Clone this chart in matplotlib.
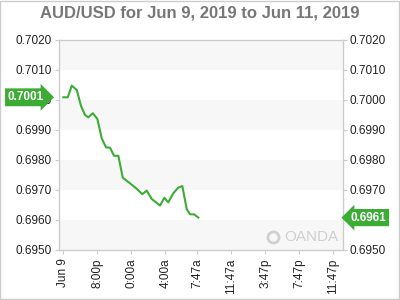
import matplotlib
matplotlib.use("Agg")
import matplotlib.pyplot as plt
import matplotlib.transforms as mtransforms

# hours since Jun 9 16:00
hours = [0, 0.52, 0.99, 1.58, 2.08, 2.55, 2.94, 3.46, 4.0, 4.52, 5.02, 5.49, 5.96, 6.47,
         6.99, 7.85, 8.55, 9.29, 9.81, 10.4, 11.38, 11.88, 12.35, 12.94, 13.53, 14.0,
         14.52, 14.91, 15.38, 15.88]
prices = [0.70009, 0.70009, 0.70048, 0.70033, 0.69980, 0.69950, 0.69942, 0.69956, 0.69937,
          0.69872, 0.69842, 0.69841, 0.69814, 0.69814, 0.69741, 0.69722, 0.69706, 0.69686,
          0.69698, 0.69670, 0.69648, 0.69674, 0.69659, 0.69689, 0.69708, 0.69713, 0.69636,
          0.69619, 0.69619, 0.69608]
xtick_pos = [0, 4, 8, 12, 15.78, 19.78, 23.78, 27.78, 31.78]
xtick_labels = ["Jun 9", "8:00p", "0:00a", "4:00a", "7:47a", "11:47a", "3:47p", "7:47p", "11:47p"]
yticks = [0.6950, 0.6960, 0.6970, 0.6980, 0.6990, 0.7000, 0.7010, 0.7020]
open_label = "0.7001"
last_label = "0.6961"

plt.rcParams['font.family'] = ['Liberation Sans', 'DejaVu Sans']
green = '#3cac34'
spine_c = '#cccccc'

fig = plt.figure(figsize=(4, 3), dpi=100)
ax = fig.add_axes([0.1467, 0.1667, 0.71, 0.70])
ax.set_xlim(-0.55, 32.87)
ax.set_ylim(0.6950, 0.7020)

# alternating bands
for i in range(len(yticks) - 1):
    if i % 2 == 0:
        ax.axhspan(yticks[i], yticks[i + 1], color='#f7f7f7', lw=0, zorder=0)

ax.plot(hours, prices, color=green, lw=1.5, zorder=3)

for s in ax.spines.values():
    s.set_color(spine_c)
    s.set_linewidth(1)

ax.set_yticks(yticks)
ax.set_yticklabels([f"{v:.4f}" for v in yticks])
ax.set_xticks(xtick_pos)
ax.set_xticklabels(xtick_labels, rotation=90)
ax.tick_params(axis='both', colors=spine_c, labelcolor='#222222', labelsize=8.5, length=3)
ax.tick_params(axis='y', pad=2)
ax.tick_params(axis='x', pad=3)

ax2 = ax.twinx()
ax2.set_ylim(ax.get_ylim())
ax2.set_yticks(yticks)
ax2.set_yticklabels([f"{v:.4f}" for v in yticks])
ax2.tick_params(axis='y', colors=spine_c, labelcolor='#222222', labelsize=8.5, length=3, pad=2)
for s in ax2.spines.values():
    s.set_visible(False)

# price tags
tl = mtransforms.blended_transform_factory(fig.transFigure, ax.transData)
ax2.text(0.02, prices[0], open_label, transform=tl, ha='left', va='center',
         color='white', fontsize=8.5, fontweight='bold', zorder=10, clip_on=False,
         bbox=dict(boxstyle='rarrow,pad=0.25', fc=green, ec='none'))
ax2.text(0.877, prices[-1], last_label, transform=tl, ha='left', va='center',
         color='white', fontsize=8.5, fontweight='bold', zorder=10, clip_on=False,
         bbox=dict(boxstyle='larrow,pad=0.22', fc=green, ec='none'))

# watermark
ax.text(0.985, 0.06, "OANDA", transform=ax.transAxes, ha='right', va='center',
        color='#d0d0d0', fontsize=11, zorder=1)
ax.plot([0.755], [0.06], marker='o', ms=8, mfc='none', mec='#d0d0d0', mew=2,
        transform=ax.transAxes, zorder=1)

fig.text(0.5, 0.955, "AUD/USD for Jun 9, 2019 to Jun 11, 2019", ha='center', va='center',
         color='#777777', fontsize=12, fontweight='bold')

# figure border
fig.patches.append(plt.Rectangle((0.001, 0.003), 0.997, 0.994, transform=fig.transFigure,
                                 fill=False, ec='#cccccc', lw=1))

fig.savefig("out.png", dpi=100)
